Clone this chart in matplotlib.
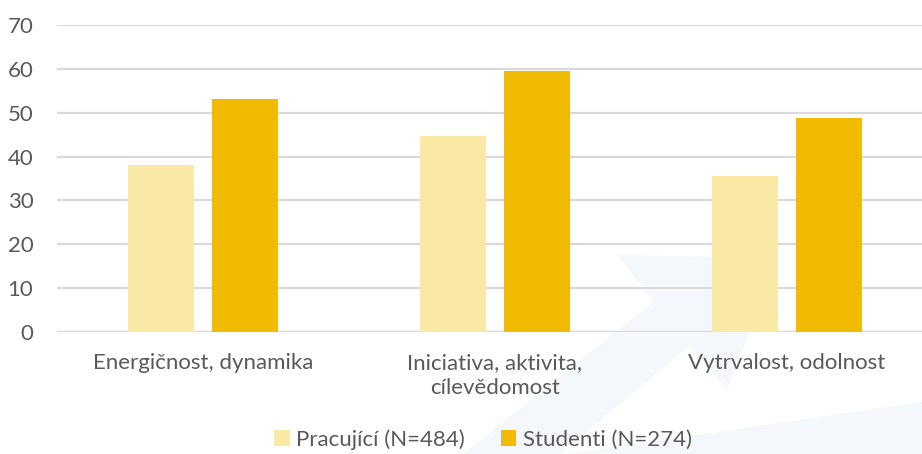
import matplotlib
matplotlib.use("Agg")
import matplotlib.pyplot as plt
from matplotlib.patches import Polygon
import numpy as np

categories = ["Energičnost, dynamika", "Iniciativa, aktivita,\ncílevědomost", "Vytrvalost, odolnost"]
series_names = ["Pracující (N=484)", "Studenti (N=274)"]
pracujici = [38.1, 44.7, 35.6]
studenti = [53.2, 59.5, 48.9]
y_ticks = [0, 10, 20, 30, 40, 50, 60, 70]

C_LIGHT = "#FAE9A5"
C_DARK = "#F0BB00"
TXT = "#595959"
GRID = "#D9D9D9"

plt.rcParams['font.family'] = ['Lato', 'DejaVu Sans']

W, H = 922, 454
fig = plt.figure(figsize=(W / 100, H / 100), dpi=100)

# faint background watermark (decoration) in its own background axes
bg = fig.add_axes([0, 0, 1, 1], zorder=-5)
bg.set_xlim(0, W)
bg.set_ylim(H, 0)
bg.axis('off')
wm_color = "#F4F7FC"
bg.add_patch(Polygon([(618, 255), (778, 258), (727, 390), (690, 345),
                      (560, 454), (463, 454), (653, 302)],
                     closed=True, facecolor=wm_color, edgecolor='none'))
bg.add_patch(Polygon([(567, 454), (922, 402), (922, 454)],
                     closed=True, facecolor=wm_color, edgecolor='none'))

ax = fig.add_axes([57 / W, 1 - 332 / H, 875.5 / W, 307 / H], zorder=1)
ax.patch.set_alpha(0)

x = np.arange(len(categories))
bw = 0.226
off = 0.144
ax.bar(x - off, pracujici, width=bw, color=C_LIGHT, label=series_names[0], zorder=3)
ax.bar(x + off, studenti, width=bw, color=C_DARK, label=series_names[1], zorder=3)

ax.set_xlim(-0.5, 2.5)
ax.set_ylim(0, 70)
ax.set_yticks(y_ticks)
ax.set_yticklabels([str(v) for v in y_ticks])
ax.yaxis.grid(True, color=GRID, linewidth=1.6, zorder=1)
ax.set_axisbelow(True)
ax.set_xticks(x)
ax.set_xticklabels(categories, linespacing=1.3)
for s in ax.spines.values():
    s.set_visible(False)
ax.tick_params(axis='y', length=0, pad=17, labelsize=16, labelcolor=TXT)
ax.tick_params(axis='x', length=0, pad=15, labelsize=16, labelcolor=TXT)
ax.axhline(0, color=GRID, linewidth=1.6, zorder=2)

leg = fig.legend(loc='center', bbox_to_anchor=(0.524, 0.032), ncol=2, frameon=False,
                 fontsize=16, handlelength=0.7, handleheight=0.7, handletextpad=0.3,
                 columnspacing=1.6, labelcolor=TXT)
leg.set_zorder(2)

fig.savefig("out.png", dpi=100)
